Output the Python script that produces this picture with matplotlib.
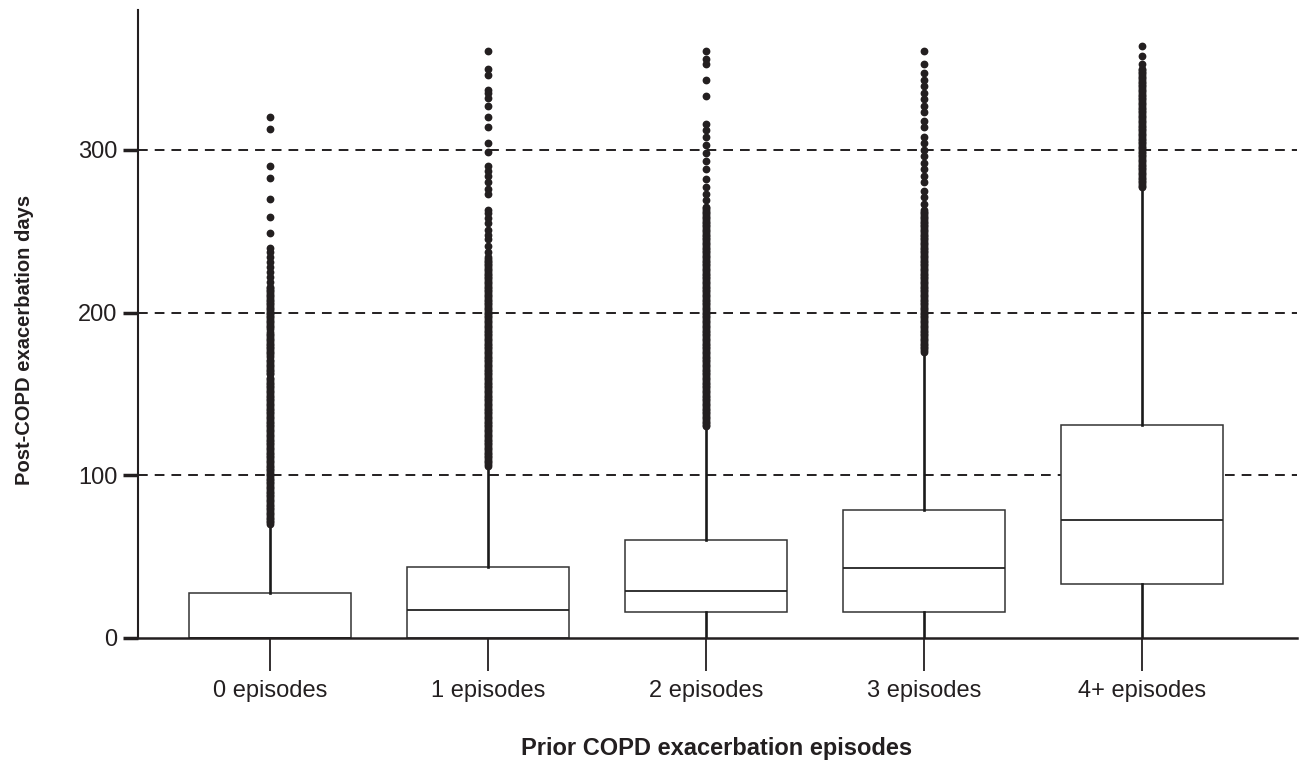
import matplotlib
matplotlib.use("Agg")
import matplotlib.pyplot as plt
from matplotlib import font_manager

# --- data ---
groups = ["0 episodes", "1 episodes", "2 episodes", "3 episodes", "4+ episodes"]

q1 = [0, 0, 16, 16, 33]
median = [0, 17, 29, 43, 72.5]
q3 = [27.7, 43.6, 60.2, 78.7, 131]
whisker_low = [0, 0, 0, 0, 0]
whisker_high = [69, 105, 129, 175, 276]

# separated outlier dots (days)
sparse_fliers = [
    [320, 313, 290, 283, 270, 259, 249, 240, 237, 234, 231, 228, 225, 222, 219],
    [361, 350, 346, 337, 335, 332, 327, 320, 314, 304, 299, 290, 287, 284, 280,
     276, 273, 263, 261, 258, 255, 251, 248, 245, 241, 237],
    [361, 356, 353, 343, 333, 316, 312, 308, 303, 298, 293, 288, 282, 277, 273, 269],
    [361, 353, 347, 343, 339, 335, 331, 327, 323, 318, 314, 308, 304, 300, 296,
     292, 288, 284, 280, 275, 271, 267],
    [364, 358, 353],
]
# day ranges where every day has an outlier (solid columns of dots)
dense_fliers = [
    [(70, 160), (162, 171), (173, 188), (190, 216)],
    [(106, 234)],
    [(130, 265)],
    [(176, 263)],
    [(277, 350)],
]

yticks = [0, 100, 200, 300]

# fonts
names = {f.name for f in font_manager.fontManager.ttflist}
base_font = "Liberation Sans" if "Liberation Sans" in names else "DejaVu Sans"
plt.rcParams["font.family"] = [base_font, "DejaVu Sans"]

fig = plt.figure(figsize=(13.01, 7.66), dpi=100)
ax = fig.add_axes([138 / 1301, 1 - 638 / 766, (1297 - 138) / 1301, (638 - 10) / 766])

stats = []
for i, name in enumerate(groups):
    fl = list(sparse_fliers[i])
    for lo, hi in dense_fliers[i]:
        fl += list(range(lo, hi + 1))
    stats.append(dict(label=name, q1=q1[i], med=median[i], q3=q3[i],
                      whislo=whisker_low[i], whishi=whisker_high[i], fliers=fl))

positions = list(range(len(groups)))
ax.bxp(stats, positions=positions, widths=0.743, patch_artist=True,
       showcaps=False, zorder=2,
       boxprops=dict(facecolor="white", edgecolor="#333333", linewidth=1.1),
       medianprops=dict(color="#222222", linewidth=1.3),
       whiskerprops=dict(color="#1a1a1a", linewidth=1.9),
       flierprops=dict(marker="o", markersize=4.6, markerfacecolor="#231f20",
                       markeredgecolor="#231f20", linestyle="none"))

# dashed reference lines
for y in yticks[1:]:
    ax.axhline(y, color="#231f20", linewidth=1.4, linestyle=(0, (5, 3.6)), zorder=0.5)

ax.set_xlim(-0.606, 4.711)
ax.set_ylim(0, 386)
ax.set_yticks(yticks)
ax.set_xticks(positions)
ax.set_xticklabels(groups)

for s in ["top", "right"]:
    ax.spines[s].set_visible(False)
ax.spines["left"].set_linewidth(1.5)
ax.spines["bottom"].set_linewidth(1.8)
ax.spines["left"].set_color("#231f20")
ax.spines["bottom"].set_color("#231f20")

ax.tick_params(axis="y", length=11, width=2.5, pad=4, labelsize=17,
               color="#231f20", labelcolor="#231f20")
ax.tick_params(axis="x", length=24, width=1.3, pad=6, labelsize=17,
               color="#231f20", labelcolor="#231f20")

fig.text(25 / 1301, 1 - 340 / 766, "Post-COPD exacerbation days", rotation=90,
         ha="center", va="center", fontsize=14.5, fontweight="bold", color="#231f20")
fig.text(717 / 1301, 1 - 748 / 766, "Prior COPD exacerbation episodes",
         ha="center", va="center", fontsize=17, fontweight="bold", color="#231f20")

fig.savefig("out.png", dpi=100)
